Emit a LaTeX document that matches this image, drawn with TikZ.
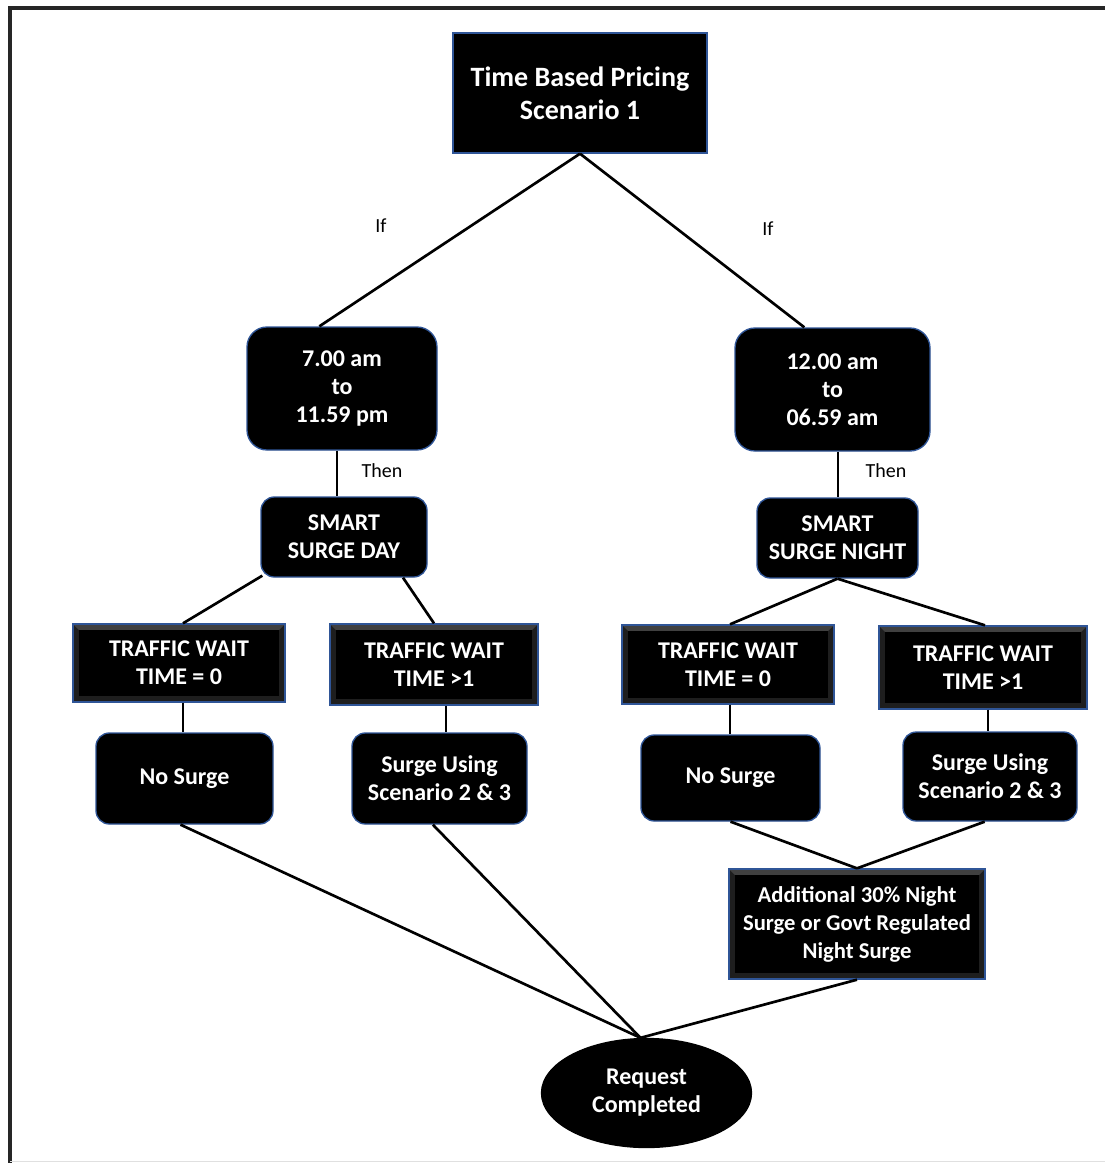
\documentclass[tikz,border=0pt]{standalone}
\usepackage{fontspec}
\setmainfont{Carlito}
\usetikzlibrary{shapes.geometric}

\definecolor{edgeblue}{RGB}{47,85,151}
\definecolor{bevellight}{RGB}{64,64,64}
\definecolor{beveldark}{RGB}{30,30,30}

\tikzset{
  boxtext/.style={text=white, align=center, font=\bfseries\fontsize{18}{21}\selectfont, inner sep=0pt},
  plainbox/.style={boxtext, rectangle, fill=black, draw=edgeblue, line width=1pt},
  roundbox/.style={plainbox, rounded corners=#1},
  roundbox/.default=12pt,
  bevelbox/.style={plainbox,
    path picture={
      \fill[beveldark] (path picture bounding box.south west) rectangle (path picture bounding box.north east);
      \fill[bevellight] (path picture bounding box.north west) -- (path picture bounding box.north east)
        -- ([shift={(-4.5pt,-4.5pt)}]path picture bounding box.north east)
        -- ([shift={(4.5pt,-4.5pt)}]path picture bounding box.north west) -- cycle;
      \fill[black] ([shift={(4.5pt,4.5pt)}]path picture bounding box.south west)
        rectangle ([shift={(-4.5pt,-4.5pt)}]path picture bounding box.north east);
    }},
  endnode/.style={boxtext, ellipse, fill=black, draw=black, line width=1pt},
  caption/.style={font=\fontsize{15}{17}\selectfont, inner sep=0pt},
  link/.style={line width=2pt, black}
}

\begin{document}
\begin{tikzpicture}[x=0.75pt, y=-0.75pt]
\useasboundingbox (0,0) rectangle (1105,1163);

% frame
\draw[line width=2.4pt, black!85] (10,1163) -- (10,8) -- (1105,8);
\draw[line width=0.8pt, black!12] (10,1161.5) -- (1105,1161.5);

% header
\node[plainbox, minimum width=190.5pt, minimum height=90pt,
      font=\bfseries\fontsize{21}{25}\selectfont] (top) at (580,93) {Time Based Pricing\\Scenario 1};

% time windows
\node[roundbox=15pt, minimum width=142.5pt, minimum height=92.25pt] (day) at (342,388.5) {7.00 am\\to\\11.59 pm};
\node[roundbox=15pt, minimum width=146.25pt, minimum height=92.25pt] (night) at (832.5,389.5) {12.00 am\\to\\06.59 am};

% surge modes
\node[roundbox=10pt, minimum width=124.5pt, minimum height=60pt] (sday) at (344,537) {SMART\\SURGE DAY};
\node[roundbox=10pt, minimum width=120.75pt, minimum height=60pt] (snight) at (837.5,538) {SMART\\SURGE NIGHT};

% traffic checks
\node[bevelbox, minimum width=159pt, minimum height=58.5pt] (tw1) at (179,663) {TRAFFIC WAIT\\TIME = 0};
\node[bevelbox, minimum width=156pt, minimum height=60.75pt] (tw2) at (434,664.5) {TRAFFIC WAIT\\TIME >1};
\node[bevelbox, minimum width=159pt, minimum height=59.25pt] (tw3) at (728,664.5) {TRAFFIC WAIT\\TIME = 0};
\node[bevelbox, minimum width=156pt, minimum height=62.25pt] (tw4) at (983,667.5) {TRAFFIC WAIT\\TIME >1};

% outcomes
\node[roundbox=10pt, minimum width=132.75pt, minimum height=68.25pt] (ns1) at (184.5,778.5) {No Surge};
\node[roundbox=10pt, minimum width=131.25pt, minimum height=68.25pt] (su1) at (439.5,778.5) {Surge Using\\Scenario 2 \& 3};
\node[roundbox=10pt, minimum width=134.25pt, minimum height=64.5pt] (ns2) at (730.5,778) {No Surge};
\node[roundbox=10pt, minimum width=130.5pt, minimum height=66.75pt] (su2) at (990,776.5) {Surge Using\\Scenario 2 \& 3};

\node[bevelbox, minimum width=192pt, minimum height=82.5pt,
      font=\bfseries\fontsize{17}{21}\selectfont] (extra) at (857,924) {Additional 30\% Night\\Surge or Govt Regulated\\Night Surge};

\node[endnode, minimum width=157.5pt, minimum height=81.75pt] (done) at (646.5,1093) {Request\\Completed};

% captions
\node[caption] (if1) at (381,226) {If};
\node[caption] (if2) at (768,229) {If};
\node[caption] (then1) at (382,471) {Then};
\node[caption] (then2) at (886,471) {Then};

% connectors
\draw[link] (top.south) -- ([xshift=54.75pt]day.north west);
\draw[link] (top.south) -- ([xshift=52.5pt]night.north west);

\draw[link] ([xshift=-3.75pt]day.south) -- ([xshift=-3.75pt]day.south |- sday.north);
\draw[link] ([xshift=4.1pt]night.south) -- ([xshift=4.1pt]night.south |- snight.north);

\draw[link] ([shift={(1.5pt,1.5pt)}]sday.south west) -- ([xshift=3pt]tw1.north);
\draw[link] ([xshift=44.25pt]sday.south) -- (tw2.north);
\draw[link] (snight.south) -- ([xshift=1.5pt]tw3.north);
\draw[link] (snight.south) -- ([xshift=1.5pt]tw4.north);

\draw[link] ([xshift=3pt]tw1.south) -- ([xshift=3pt]tw1.south |- ns1.north);
\draw[link] ([xshift=9pt]tw2.south) -- ([xshift=9pt]tw2.south |- su1.north);
\draw[link] ([xshift=1.5pt]tw3.south) -- ([xshift=1.5pt]tw3.south |- ns2.north);
\draw[link] ([xshift=3.75pt]tw4.south) -- ([xshift=3.75pt]tw4.south |- su2.north);

\draw[link] (ns2.south) -- (extra.north);
\draw[link] ([xshift=-4pt]su2.south) -- (extra.north);

\draw[link] ([xshift=-3pt]ns1.south) -- ([xshift=-4.5pt]done.north);
\draw[link] ([xshift=-5pt]su1.south) -- ([xshift=-4.5pt]done.north);
\draw[link] (extra.south) -- ([xshift=-4.5pt]done.north);
\end{tikzpicture}
\end{document}
